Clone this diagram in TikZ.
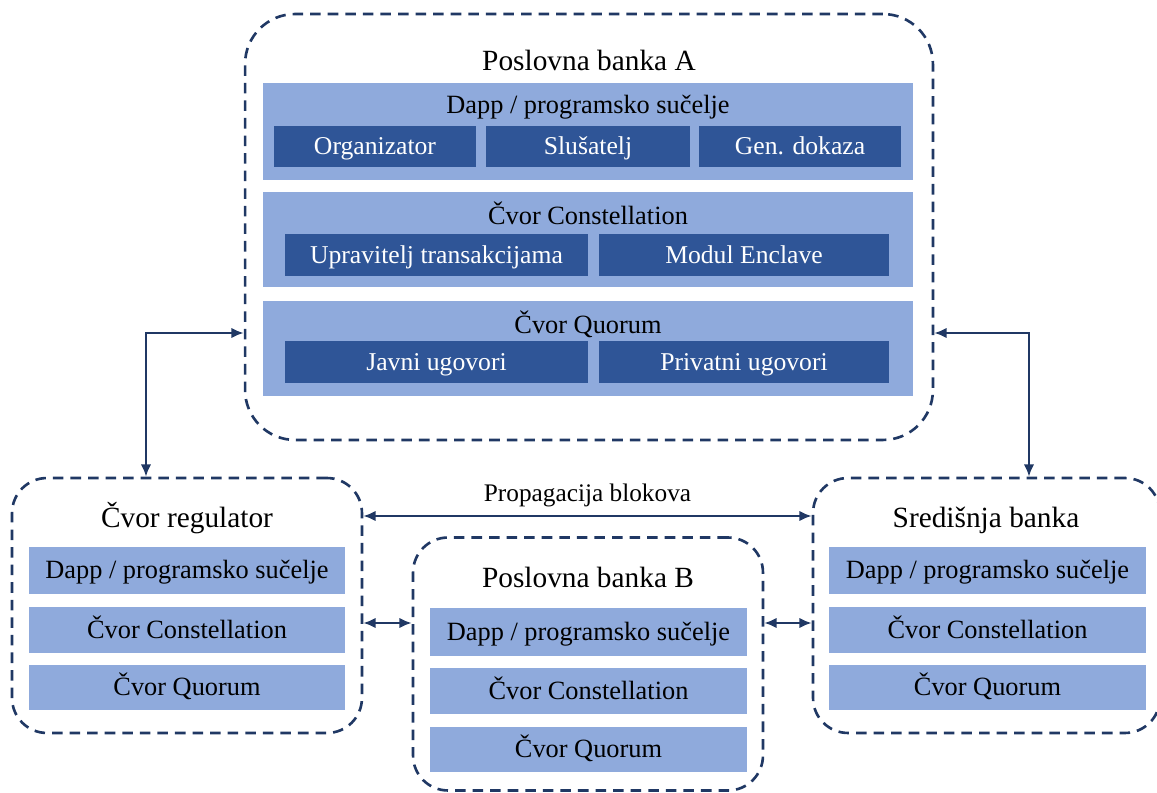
\documentclass[tikz,border=0pt]{standalone}
\usepackage{fontspec}
\setmainfont{Liberation Serif}
\usetikzlibrary{arrows.meta}
\definecolor{navy}{HTML}{203864}
\definecolor{band}{HTML}{8FAADC}
\definecolor{deep}{HTML}{2F5597}

\begin{document}
\begin{tikzpicture}[x=0.02cm,y=-0.02cm,
	bank/.style={draw=navy,line width=1.5pt,dash pattern=on 6pt off 4pt,rounded corners=0.9cm},
	layer/.style={fill=band,inner sep=0pt,text height=1em,text depth=0.05em,font=\fontsize{15}{18}\selectfont},
	cell/.style={fill=deep,text=white,inner sep=0pt,minimum height=0.83cm,text height=1em,text depth=0.05em,font=\fontsize{14.6}{17}\selectfont},
	headtxt/.style={anchor=base,font=\fontsize{16.7}{20}\selectfont},
	bandtxt/.style={anchor=base,font=\fontsize{15}{18}\selectfont},
	link/.style={draw=navy,line width=1.3pt,{Latex[length=7pt,width=6pt]}-{Latex[length=7pt,width=6pt]}}]
	\useasboundingbox (0,0) rectangle (1157,793);
	% Poslovna banka A
	\node[bank,minimum width=13.76cm,minimum height=8.52cm,rounded corners=1cm] (A) at (589,227) {};
	\node[headtxt] (At) at (589,71) {Poslovna banka A};
	\node[layer,minimum width=13cm,minimum height=1.94cm] (A1) at (588,131.5) {};
	\node[bandtxt] (A1t) at (588,114) {Dapp / programsko sučelje};
	\node[cell,minimum width=4.04cm] (org) at (375,146.5) {Organizator};
	\node[cell,minimum width=4.08cm] (slu) at (588,146.5) {Slušatelj};
	\node[cell,minimum width=4.04cm] (gen) at (800,146.5) {Gen. dokaza};
	\node[layer,minimum width=13cm,minimum height=1.9cm] (A2) at (588,239.5) {};
	\node[bandtxt] (A2t) at (588,225) {Čvor Constellation};
	\node[cell,minimum width=6.06cm] (upr) at (436.5,255) {Upravitelj transakcijama};
	\node[cell,minimum width=5.8cm] (enc) at (744,255) {Modul Enclave};
	\node[layer,minimum width=13cm,minimum height=1.9cm] (A3) at (588,348.5) {};
	\node[bandtxt] (A3t) at (588,334) {Čvor Quorum};
	\node[cell,minimum width=6.06cm] (jav) at (436.5,362) {Javni ugovori};
	\node[cell,minimum width=5.8cm] (pri) at (744,362) {Privatni ugovori};
	% Cvor regulator
	\node[bank,minimum width=7cm,minimum height=5.1cm,rounded corners=0.7cm] (R) at (187,605.5) {};
	\node[headtxt] (Rt) at (187,528) {Čvor regulator};
	\node[layer,minimum width=6.32cm,minimum height=0.94cm] (R1) at (187,570.5) {Dapp / programsko sučelje};
	\node[layer,minimum width=6.32cm,minimum height=0.92cm] (R2) at (187,630) {Čvor Constellation};
	\node[layer,minimum width=6.32cm,minimum height=0.9cm] (R3) at (187,687.5) {Čvor Quorum};
	% Poslovna banka B
	\node[bank,minimum width=7cm,minimum height=5.06cm,rounded corners=0.7cm] (B) at (588,664) {};
	\node[headtxt] (Bt) at (588,588) {Poslovna banka B};
	\node[layer,minimum width=6.34cm,minimum height=0.96cm] (B1) at (588.5,632) {Dapp / programsko sučelje};
	\node[layer,minimum width=6.34cm,minimum height=0.92cm] (B2) at (588.5,691) {Čvor Constellation};
	\node[layer,minimum width=6.34cm,minimum height=0.9cm] (B3) at (588.5,749.5) {Čvor Quorum};
	% Sredisnja banka
	\node[bank,minimum width=6.94cm,minimum height=5.1cm,rounded corners=0.7cm] (S) at (986.5,605.5) {};
	\node[headtxt] (St) at (986,528) {Središnja banka};
	\node[layer,minimum width=6.34cm,minimum height=0.94cm] (S1) at (987.5,570.5) {Dapp / programsko sučelje};
	\node[layer,minimum width=6.34cm,minimum height=0.92cm] (S2) at (987.5,630) {Čvor Constellation};
	\node[layer,minimum width=6.34cm,minimum height=0.9cm] (S3) at (987.5,687.5) {Čvor Quorum};
	% veze
	\draw[link] (A.west |- 0,333) -| (R.north -| 146,0);
	\draw[link] (A.east |- 0,333) -| (S.north -| 1029,0);
	\draw[link] (R.east |- 0,516) -- node[above=1pt,font=\fontsize{14.4}{17}\selectfont] {Propagacija blokova} (S.west |- 0,516);
	\draw[link] (R.east |- 0,623) -- (B.west |- 0,623);
	\draw[link] (B.east |- 0,623) -- (S.west |- 0,623);
\end{tikzpicture}
\end{document}
